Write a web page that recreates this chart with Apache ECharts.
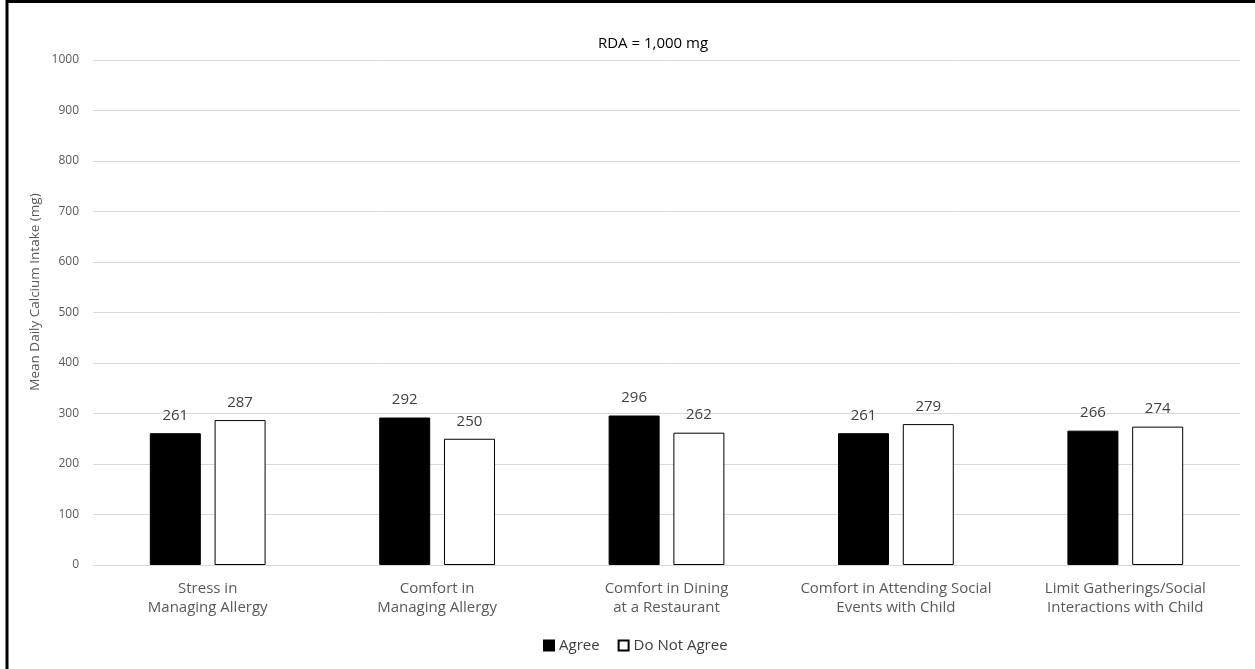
<!DOCTYPE html>
<html>
<head>
<meta charset="utf-8">
<script src="https://cdn.jsdelivr.net/npm/echarts@6/dist/echarts.min.js"></script>
<style>
  html, body { margin: 0; padding: 0; background: #fff; }
  #chart { width: 1255px; height: 669px; }
</style>
</head>
<body>
<div id="chart"></div>
<script>
// Calcium intake by attitude toward food-allergy management
const categories = [
  'Stress in\nManaging Allergy',
  'Comfort in\nManaging Allergy',
  'Comfort in Dining\nat a Restaurant',
  'Comfort in Attending Social\nEvents with Child',
  'Limit Gatherings/Social\nInteractions with Child'
];
const agree = [261, 292, 296, 261, 266];
const doNotAgree = [287, 250, 262, 279, 274];
const yTicks = [0, 100, 200, 300, 400, 500, 600, 700, 800, 900, 1000];

const FONT = '"Open Sans", "Noto Sans", sans-serif';

const chart = echarts.init(document.getElementById('chart'));
chart.setOption({
  backgroundColor: '#fff',
  animation: false,
  title: {
    text: 'RDA = 1,000 mg',
    left: 648,
    top: 31,
    textAlign: 'center',
    textStyle: { fontFamily: FONT, fontSize: 15, fontWeight: 'normal', color: '#000' }
  },
  legend: {
    data: [
      { name: 'Agree', icon: 'rect' },
      { name: 'Do Not Agree', icon: 'rect' }
    ],
    top: 633,
    left: 538,
    itemWidth: 10,
    itemHeight: 10,
    itemGap: 18,
    textStyle: { fontFamily: FONT, fontSize: 15, color: '#404040' }
  },
  grid: { left: 93, right: 15, top: 60, bottom: 104, containLabel: false },
  xAxis: {
    type: 'category',
    data: categories,
    axisLine: { lineStyle: { color: '#d9d9d9' } },
    axisTick: { show: false },
    axisLabel: {
      fontFamily: FONT, fontSize: 15, color: '#595959',
      lineHeight: 19, margin: 14, interval: 0
    }
  },
  yAxis: {
    type: 'value',
    min: yTicks[0],
    max: yTicks[yTicks.length - 1],
    interval: 100,
    axisLine: { show: false },
    axisTick: { show: false },
    axisLabel: {
      fontFamily: FONT, fontSize: 12, color: '#595959', margin: 14,
      formatter: v => String(v)
    },
    splitLine: { lineStyle: { color: '#d9d9d9', width: 1 } }
  },
  series: [
    {
      name: 'Agree',
      type: 'bar',
      data: agree,
      barWidth: 51,
      barGap: '27%',
      itemStyle: { color: '#000', borderColor: '#000', borderWidth: 1 },
      label: {
        show: true, position: 'top', distance: 10,
        fontFamily: FONT, fontSize: 15, color: '#404040'
      }
    },
    {
      name: 'Do Not Agree',
      type: 'bar',
      data: doNotAgree,
      barWidth: 51,
      itemStyle: { color: '#fff', borderColor: '#000', borderWidth: 1 },
      label: {
        show: true, position: 'top', distance: 10,
        fontFamily: FONT, fontSize: 15, color: '#404040'
      }
    }
  ],
  graphic: [
    // vertical axis title
    {
      type: 'text',
      x: 35,
      y: 292,
      rotation: Math.PI / 2,
      style: {
        text: 'Mean Daily Calcium Intake (mg)',
        fontFamily: FONT, fontSize: 13.5, fill: '#595959',
        align: 'center', verticalAlign: 'middle'
      }
    },
    // frame edges
    { type: 'line', shape: { x1: 7, y1: 1.5, x2: 1255, y2: 1.5 }, style: { stroke: '#000', lineWidth: 3 } },
    { type: 'line', shape: { x1: 7, y1: 0, x2: 7, y2: 669 }, style: { stroke: '#000', lineWidth: 3 } }
  ]
});
</script>
</body>
</html>
